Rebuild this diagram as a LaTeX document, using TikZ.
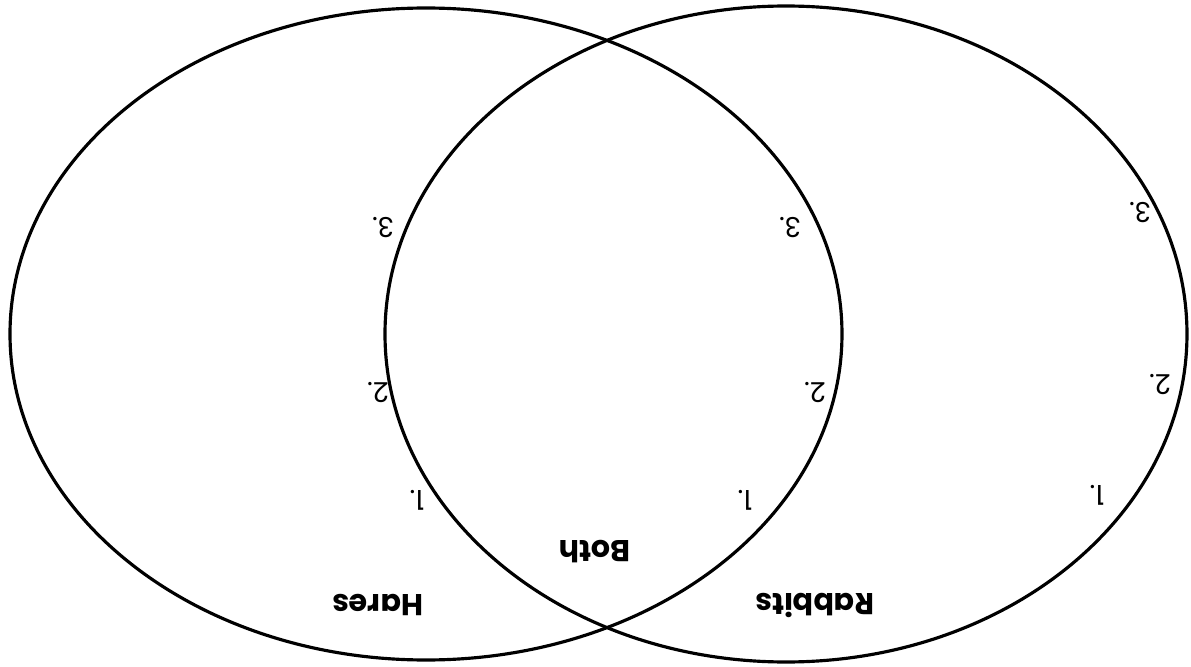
\documentclass[tikz,border=0pt]{standalone}
\usepackage{fontspec}
\setmainfont{Poppins}
\usepackage{tikz}
\usetikzlibrary{positioning}
\tikzset{
    setring/.style={draw=black, line width=0.9pt},
    setname/.style={font=\bfseries\fontsize{8.6}{10}\selectfont, rotate=180},
    entry/.style={font=\fontsize{7.8}{9}\selectfont, rotate=180}
}
\begin{document}
\begin{tikzpicture}
    \useasboundingbox (0,0) rectangle (11.91,6.66);
    \draw [setring] (4.26,3.32) ellipse [x radius=4.16, y radius=3.26];
    \draw [setring] (7.86,3.32) ellipse [x radius=4.01, y radius=3.28];

    \node (hares) [setname] at (3.78,0.61) {Hares};
    \node (both) [setname] at (5.95,1.14) {Both};
    \node (rabbits) [setname] at (8.15,0.61) {Rabbits};

    \node (h1) [entry] at (4.17,1.66) {1.};
    \node (h2) [entry] at (3.78,2.73) {2.};
    \node (h3) [entry] at (3.83,4.38) {3.};
    \node (b1) [entry] at (7.45,1.66) {1.};
    \node (b2) [entry] at (8.15,2.73) {2.};
    \node (b3) [entry] at (7.90,4.38) {3.};
    \node (r1) [entry] at (10.97,1.71) {1.};
    \node (r2) [entry] at (11.60,2.81) {2.};
    \node (r3) [entry] at (11.40,4.53) {3.};
\end{tikzpicture}
\end{document}
